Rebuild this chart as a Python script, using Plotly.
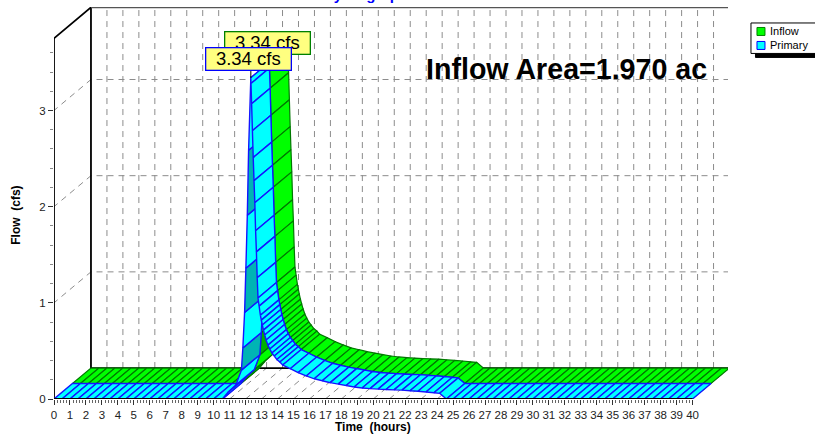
import plotly.graph_objects as go

# ---- data ----
time_hours = [0.0, 0.5, 1.0, 1.5, 2.0, 2.5, 3.0, 3.5, 4.0, 4.5, 5.0, 5.5, 6.0, 6.5, 7.0, 7.5, 8.0, 8.5, 9.0, 9.5, 10.0,
              10.55, 10.9, 11.39, 11.74, 11.83, 11.94, 12.02, 12.11, 12.19, 12.33,
              12.34, 12.38, 12.43, 12.48, 12.53, 12.58, 12.63, 12.68, 12.73, 12.78, 12.85, 12.93, 12.99, 13.05, 13.12, 13.2,
              13.29, 13.4, 13.52, 13.65, 13.8, 13.96, 14.15, 14.33, 14.8, 15.3, 15.8, 16.3, 16.8, 17.3, 17.8, 18.3, 18.8,
              19.3, 19.8, 20.3, 20.8, 21.3, 21.8,
              22.3, 22.8, 23.3, 23.8, 24.16, 24.58, 25.0, 25.5, 26.0, 26.5, 27.0, 27.5, 28.0, 28.5, 29.0, 29.5, 30.0,
              30.5, 31.0, 31.5, 32.0, 32.5, 33.0, 33.5, 34.0, 34.5, 35.0, 35.5, 36.0, 36.5, 37.0, 37.5, 38.0, 38.5,
              39.0, 39.5, 40.0]
primary_cfs = [0.0, 0.0, 0.0, 0.0, 0.0, 0.0, 0.0, 0.0, 0.0, 0.0, 0.0, 0.0, 0.0, 0.0, 0.0, 0.0, 0.0, 0.0, 0.0, 0.0, 0.0,
               0.0, 0.07, 0.145, 0.30, 0.53, 0.90, 1.36, 1.91, 2.586, 3.34,
               3.28, 3.07, 2.79, 2.51, 2.27, 2.04, 1.75, 1.53, 1.26, 1.05, 0.966, 0.87, 0.82, 0.77, 0.716, 0.665,
               0.613, 0.56, 0.519, 0.478, 0.447, 0.41, 0.384, 0.353, 0.315, 0.275, 0.24, 0.21, 0.19, 0.17, 0.155, 0.14, 0.125,
               0.115, 0.108, 0.103, 0.099, 0.095, 0.092,
               0.086, 0.08, 0.073, 0.065, 0.059, 0.0, 0.0, 0.0, 0.0, 0.0, 0.0, 0.0, 0.0, 0.0, 0.0, 0.0, 0.0,
               0.0, 0.0, 0.0, 0.0, 0.0, 0.0, 0.0, 0.0, 0.0, 0.0, 0.0, 0.0, 0.0, 0.0, 0.0, 0.0, 0.0,
               0.0, 0.0, 0.0]
inflow_cfs = list(primary_cfs)
peak_time = 12.33
peak_cfs = 3.34
x_ticks = list(range(0, 41))
y_ticks = [0, 1, 2, 3]
series_names = ["Inflow", "Primary"]
peak_labels = ["3.34 cfs", "3.34 cfs"]
area_label = "Inflow Area=1.970 ac"
chart_title = "Hydrograph"
shaded_from = [11.74, 11.94, 12.11]   # segments on the rising limb drawn in the darker shade

# ---- layout in pixels ----
W, H = 815, 438
L, R, T, B = 54, 728.5, 6.5, 399
PX_PER_HR = (693 - 54) / 40
PX_PER_CFS = 96.3
DEPTH_T = 37 / PX_PER_HR     # oblique offset of the back plane, in axis units
DEPTH_V = 31 / PX_PER_CFS
X_MAX = (R - L) / PX_PER_HR
Y_MAX = (B - T) / PX_PER_CFS
WALL_TOP = 3.75

def project(t, v, z):
    return t + z * DEPTH_T, v + z * DEPTH_V

def px(x):
    return (x - L) / (R - L)

def py(y):
    return (B - y) / (B - T)

fig = go.Figure()

def lines(segments, color, width, dash="solid"):
    xs, ys = [], []
    for seg in segments:
        for p in seg:
            xs.append(p[0]); ys.append(p[1])
        xs.append(None); ys.append(None)
    fig.add_trace(go.Scatter(x=xs, y=ys, mode="lines", hoverinfo="skip", showlegend=False,
                             line=dict(color=color, width=width, dash=dash)))

GRID = "#8c8c8c"
DASH = "6px,5px"
# vertical wall grid + floor diagonals
lines([[project(t, 0, 1), project(t, Y_MAX - DEPTH_V - 0.02, 1)] for t in x_ticks[1:]], GRID, 1, DASH)
lines([[project(t, 0, 0), project(t, 0, 1)] for t in x_ticks[1:]], GRID, 1, DASH)
# horizontal wall grid
lines([[project(40, v, 1), project(0, v, 1), project(0, v, 0)] for v in y_ticks[1:]], GRID, 1, DASH)
# frame
lines([[project(0, 0, 0), project(0, WALL_TOP, 0), project(0, WALL_TOP, 1), project(0, 0, 1), project(40, 0, 1)]], "#000000", 1.8)
lines([[project(0, WALL_TOP, 1), project(40, WALL_TOP, 1)]], "#555555", 1.6)
lines([[project(40, 0, 1), project(40, WALL_TOP, 1)]], "#000000", 1.2, "4px,2px")

def ribbon(name, values, z0, z1, fill, dark, edge, width):
    for i in range(len(time_hours) - 1):
        a0 = project(time_hours[i], values[i], z0)
        b0 = project(time_hours[i + 1], values[i + 1], z0)
        b1 = project(time_hours[i + 1], values[i + 1], z1)
        a1 = project(time_hours[i], values[i], z1)
        c = dark if time_hours[i] in shaded_from else fill
        fig.add_trace(go.Scatter(
            x=[a0[0], b0[0], b1[0], a1[0], a0[0]], y=[a0[1], b0[1], b1[1], a1[1], a0[1]],
            mode="lines", fill="toself", fillcolor=c, name=name, hoverinfo="skip", showlegend=False,
            line=dict(color=edge, width=width)))

ribbon(series_names[0], inflow_cfs, 0.5, 1.0, "#00FF00", "#00B000", "#007800", 1.2)
ribbon(series_names[1], primary_cfs, 0.0, 0.5, "#00FFFF", "#00B4B4", "#1414FF", 1.4)

# axis line in front, and peak leader
lines([[project(0, 0, 0), project(40, 0, 0)]], "#000000", 1.8)
lines([[project(peak_time, peak_cfs, 0), project(peak_time, peak_cfs + 0.07, 0)]], "#000000", 1)

FONT = "Liberation Sans, Arial, sans-serif"
YEL = "#FFFF80"
ann = []
# peak callouts
ann.append(dict(x=project(peak_time, peak_cfs, 0.5)[0], y=project(peak_time, peak_cfs, 0.5)[1], xshift=-2, yshift=19,
                text=peak_labels[0], showarrow=False, width=84, height=21, bgcolor=YEL, bordercolor="#008000",
                borderwidth=1.3, borderpad=0, font=dict(family=FONT, size=18.5, color="#000000")))
ann.append(dict(x=peak_time, y=peak_cfs, xshift=-2, yshift=19,
                text=peak_labels[1], showarrow=False, width=84, height=21, bgcolor=YEL, bordercolor="#0000FF",
                borderwidth=1.3, borderpad=0, font=dict(family=FONT, size=18.5, color="#000000")))
# area label
ann.append(dict(xref="paper", yref="paper", x=px(708), y=py(69), xanchor="right", yanchor="middle", text="<b>%s</b>" % area_label,
                showarrow=False, font=dict(family=FONT, size=28.6, color="#000000"), borderpad=0))
# titles
ann.append(dict(x=20, y=0, yshift=-28, xanchor="center", yanchor="middle", text="<b>Time\u00a0\u00a0(hours)</b>", showarrow=False,
                font=dict(family=FONT, size=12, color="#000000")))
ann.append(dict(xref="paper", yref="paper", x=px(16.5), y=py(215), xanchor="center", yanchor="middle",
                text="<b>Flow\u00a0\u00a0(cfs)</b>", textangle=-90, showarrow=False,
                font=dict(family=FONT, size=12, color="#000000")))
ann.append(dict(xref="paper", yref="paper", x=px(365.5), y=py(-6), xanchor="center", yanchor="middle",
                text="<b>%s</b>" % chart_title, showarrow=False,
                font=dict(family=FONT, size=15, color="#0000FF")))
# legend
for i, name in enumerate(series_names):
    ann.append(dict(xref="paper", yref="paper", x=px(770), y=py(31 + 14 * i), xanchor="left", yanchor="middle", text=name,
                    showarrow=False, borderpad=0, font=dict(family=FONT, size=11, color="#000000")))

def rect(x0, y0, x1, y1, fill, line, lw=1):
    return dict(type="rect", xref="paper", yref="paper", x0=px(x0), x1=px(x1), y0=py(y0), y1=py(y1),
                fillcolor=fill, line=dict(color=line, width=lw), layer="above")

shapes = [
    rect(756, 27, 818, 57, "#000000", "#000000"),
    rect(751.5, 22.5, 818, 53, "#FFFFFF", "#000000"),
    rect(757.5, 27, 765.5, 35, "#00FF00", "#008000"),
    rect(757.5, 41, 765.5, 49, "#00FFFF", "#0000FF"),
]

fig.update_layout(
    width=W, height=H, autosize=False, showlegend=False,
    margin=dict(l=L, r=W - R, t=T, b=H - B, pad=0),
    paper_bgcolor="#FFFFFF", plot_bgcolor="#FFFFFF",
    font=dict(family=FONT, size=11, color="#000000"),
    annotations=ann, shapes=shapes,
    xaxis=dict(range=[0, X_MAX], tickmode="array", tickvals=x_ticks, ticktext=[str(v) for v in x_ticks],
               ticks="outside", ticklen=5, tickwidth=1, tickcolor="#333333", showgrid=False, zeroline=False, showline=False,
               tickangle=0, tickfont=dict(family=FONT, size=11.5, color="#222222"),
               minor=dict(tickmode="array", tickvals=[round(i * 0.2, 1) for i in range(0, 201)], ticks="outside", ticklen=3,
                          tickwidth=1, tickcolor="#666666", showgrid=False)),
    yaxis=dict(range=[0, Y_MAX], tickmode="array", tickvals=y_ticks, ticktext=[str(v) for v in y_ticks],
               ticks="outside", ticklen=5, tickwidth=1, tickcolor="#333333", showgrid=False, zeroline=False, showline=False,
               tickfont=dict(family=FONT, size=11.5, color="#222222"),
               minor=dict(tickmode="array", tickvals=[round(i * 0.2, 1) for i in range(0, 19)], ticks="outside", ticklen=3,
                          tickwidth=1, tickcolor="#888888", showgrid=False)),
)
fig.write_html("out.html", config=dict(displayModeBar=False),
               post_script="document.body.style.margin='0';document.documentElement.style.overflow='hidden';")
